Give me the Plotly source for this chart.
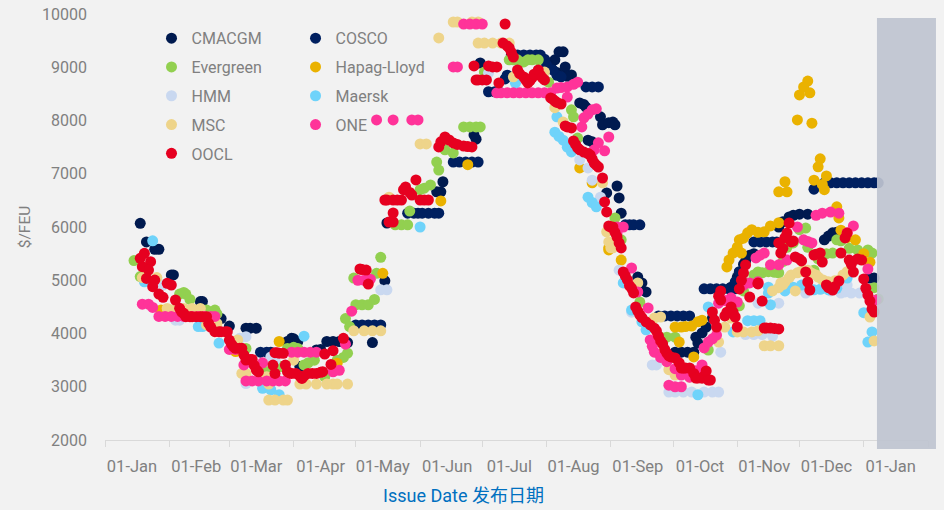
import pandas as pd
import plotly.graph_objects as go

# (day of year counted from 01-Jan, $/FEU)
CMACGM = [(17,6070),(20,5720),(24,5580),(26,5580),(32,5100),(33,5100),(46,4600),(47,4600),(56,4280),(60,4140),(68,4100),(70,4100),(73,4100),
(88,3850),(90,3910),(91,3900),(93,3850),(94,3380),(102,3690),(104,3700),(107,3850),(110,3850),(113,3850),(117,3830),(129,3830),(135,4990),
(136,6075),(160,6660),(163,6850),(162,6660),(178,7730),(179,7650),(181,9080),(217,9140),(219,9290),(221,9290),(222,9005),(225,8855),(213,9100),(215,9000),(218,8900),(220,8830),(223,8830),
(229,8330),(231,8300),(232,8250),(233,7630),(235,7600),(239,8070),(240,7920),(243,7960),(245,7970),(246,7920),(247,6770),(248,6545),(242,6640),(249,6260),
(257,5060),(259,4950),(261,4780),(275,3650),(278,3650),(281,3650),(284,3650),(285,3930),(286,3820),(288,4010),(290,4120),(293,4290),(302,4870),(305,5060),(306,5150),(308,5300),
(309,5360),(311,5470),(313,5500),(325,6000),(327,6100),(330,6190),(332,6220),(335,6240),(339,6240),(347,5760),(349,5830),(351,5890),(353,5900),(371,5040),(369,5040)]
COSCO = [(75,3650),(78,3650),(80,3650),(121,4160),(124,4160),(127,4160),(130,4160),(133,4160),(146,6260),(149,6260),(151,6260),(153,6260),(156,6260),(159,6260),(161,6260),
(168,7220),(171,7220),(174,7220),(177,7220),(180,7220),(185,8540),(188,8540),(190,8540),(193,8780),(194,8850),(196,9230),
(199,9230),(202,9230),(205,9230),(208,9230),(210,9230),(212,9150),(213,9040),(216,8950),(218,8850),(220,8820),
(232,8630),(235,8630),(238,8630),(251,6040),(253,6040),(255,6040),(258,6040),
(267,4330),(270,4330),(273,4330),(276,4330),(279,4330),(282,4330),
(289,4840),(292,4840),(295,4840),(298,4840),(301,4840),(304,4840),(304,4970),(306,5160),
(313,5720),(316,5720),(319,5720),(322,5720),(324,5720),
(342,6710),(344,6790),(347,6830),(350,6830),(353,6830),(356,6830),(359,6830),(362,6830),(365,6830),(368,6830),(371,6830),(373,6830)]
EVERGREEN = [(14,5370),(17,5070),(36,4740),(38,4770),(39,4740),(41,4640),(49,4440),(53,4440),(54,4370),(68,3720),(88,3720),(91,3740),(93,3720),(78,3280),(82,3380),(85,3380),
(96,3410),(98,3450),(101,3500),(106,3190),(112,3500),(115,3550),(117,3630),(116,4280),(118,4130),(121,4540),(124,4540),(127,4540),(130,4640),(120,5040),(131,5130),(133,5430),
(140,6040),(143,6040),(146,6040),(147,6300),(152,6700),(154,6730),(157,6790),(160,7220),(161,7070),(164,7450),(168,7390),
(173,7880),(176,7880),(179,7880),(181,7880),(183,8910),(195,9140),(199,9140),(202,9100),(206,9140),(209,9140),(197,9140),(204,9140),
(214,8720),(225,8200),(226,8070),(228,7670),(246,6170),(249,5760),(258,4590),(268,3930),(271,3930),(275,3930),(291,3690),
(306,4520),(308,4800),(310,4950),(313,5100),(315,5155),(317,5140),(321,5190),(325,5140),(327,5350),(329,5620),(338,5980),(339,5620),(342,5190),(344,5400),(348,5500),(351,5510),(353,5760),(355,5740),
(359,5600),(363,5570),(368,5570),(370,5510),(371,4860),(373,4650),(320,5160),(323,5150),(332,5700),(335,5950),(346,5480)]
HAPAG = [(27,4440),(63,3660),(84,3850),(112,3440),(134,5130),(162,6490),(175,7170),(229,7110),(235,6830),(243,5610),(243,5570),(249,5380),
(275,4120),(278,4120),(280,4130),(283,4140),(286,4220),(288,4250),(277,3840),(284,3560),(300,5250),(303,5510),(307,5510),(306,5760),(310,5890),(318,5910),(321,6020),(325,6080),(301,5380),(305,5620),(308,5790),(312,5950),(315,5900),
(325,6660),(329,6660),(328,6850),(334,8010),(341,7950),(335,8480),(340,8520),(337,8630),(339,8740),(344,7130),(345,7280),(342,6880),(348,6960),(347,6700),(346,6800),
(353,6380),(354,6170),(355,5940),(362,5760),(369,5340),(358,5800),(366,5500)]
HMM = [(28,4910),(34,4250),(36,4250),(65,3910),(68,3940),(80,3560),(82,3500),(68,3060),(133,4820),(136,4820),(185,8890),(229,7260),(233,7110),(235,6880),(239,6560),(248,5190),
(254,4400),(264,3410),(266,3410),(272,2900),(275,2900),(279,2900),(283,2900),(289,2900),(293,2900),(296,2900),(297,3650),(315,4570),(325,4570),(322,3950),(309,3980),(313,3980),(317,3980),
(355,4760),(357,4780),(360,4760),(364,4760),(358,4910),(338,4760),(350,4800)]
MAERSK = [(23,5740),(19,4970),(45,4130),(47,4130),(55,3820),(96,3950),(76,2970),(80,2940),(84,2850),(152,6000),(198,8700),(218,8070),(217,7780),(221,7630),(225,7410),(219,7700),(223,7500),
(233,6560),(235,6460),(237,6380),(250,4950),(254,4440),(259,4220),(261,4070),(286,2850),(291,4500),(310,4240),(313,4240),(316,4240),(303,4030),(320,4760),(321,4540),(320,4870),(328,4800),(330,4870),(332,4870),(336,4910),(342,4820),(345,4830),(349,4820),(353,4850),(358,5040),
(366,4390),(370,4030),(368,3840)]
MSC = [(18,5050),(25,5050),(30,4470),(34,4470),(38,4470),(42,4470),(46,4470),(49,4160),(54,4190),(64,3880),(66,3250),(68,3250),(79,3050),(79,2750),(82,2750),(86,2750),(88,2750),(78,3190),
(94,3050),(97,3050),(102,3050),(107,3050),(110,3050),(112,3050),(117,3050),(91,3500),(120,4050),(125,4050),(129,4050),(133,4050),(137,6560),(152,7560),(155,7560),(161,9550),
(168,9850),(170,9850),(177,9850),(180,9850),(180,9455),(183,9455),(187,9455),(191,9455),(195,9455),(197,8820),(212,8910),(217,8240),(221,7970),(240,6830),(242,5910),(244,5610),(243,5720),(245,5610),
(257,4950),(268,4310),(265,4290),(272,3320),(275,3220),(282,3180),(296,3840),(299,4120),(302,4290),(305,4030),(308,4030),(312,4030),(315,4050),(318,3770),(321,3770),(325,3770),
(325,4860),(328,4970),(331,5100),(334,5140),(333,4800),(339,5190),(344,5060),(349,4970),(358,5160),(369,4310),(371,3860),(327,4920),(336,5170),(341,5130),(346,5010),(352,4990),
(322,4800),(326,4950),(330,5050),(338,5180),(343,5100),(347,4990),(350,4960),(354,5000),(356,5100)]
ONE = [(18,4550),(21,4550),(23,4490),(26,4320),(29,4320),(32,4320),(35,4320),(38,4320),(42,4320),(45,4320),(48,4320),(51,4320),(53,4320),(60,3700),(63,3700),(67,3410),(76,3450),
(68,3110),(71,3110),(74,3110),(78,3110),(81,3110),(84,3110),(87,3110),(90,3650),(93,3650),(96,3650),(99,3650),(102,3650),(113,3310),(110,3280),(116,3800),(119,4420),(122,5000),(125,5000),(128,5020),
(131,8010),(139,8010),(148,8010),(151,8010),(168,9005),(170,9005),(173,9810),(176,9810),(179,9810),(182,9810),
(189,8520),(191,8520),(194,8520),(197,8520),(200,8520),(203,8520),(206,8520),(209,8520),(212,8520),(215,8520),(218,8610),(220,8620),(223,8630),(226,8680),(228,8720),(223,8440),(230,7880),(231,8050),(233,8120),(235,8200),(237,8220),
(236,7450),(241,7430),(238,7580),(243,7690),(247,6000),(250,6000),(247,5890),(254,5230),(257,4780),(262,4480),(263,3880),(264,3760),(265,3650),(268,3550),(271,3470),(275,3340),(278,3220),(288,3410),(282,3180),(285,3300),
(272,3030),(275,3000),(278,3000),(289,3730),(291,3840),(293,3900),(295,3970),(296,4570),(299,4620),(302,4670),(305,4590),(308,4910),(311,4950),(315,4970),(302,4630),
(314,5420),(316,5470),(318,5510),(321,5290),(325,5290),(329,5380),(334,6000),(337,5760),(339,5730),(341,5700),(343,6220),(346,6260),(350,6280),(354,6260),(361,6020),(358,5890),(368,5210),(372,4630)]
OOCL = [(19,5505),(17,5411),(22,5349),(18,5254),(21,5192),(20,5035),(24,5004),(23,4879),(26,4741),(28,4679),(30,4942),(32,4910),(34,4629),(36,4472),(37,4400),(38,4380),(39,4316),(41,4316),(42,4316),(44,4316),(46,4316),(47,4316),(49,4316),(50,4190),(51,4120),(53,4034),(55,4034),(56,4034),(58,4034),(59,4034),(60,3877),(61,3800),(62,3750),(63,3721),(65,3721),(66,3721),(67,3600),(68,3502),(70,3510),(71,3514),(72,3400),(73,3314),(74,3280),
(82,3640),(83,3640),(84,3630),(86,3627),(81,3408),(82,3251),(87,3408),(88,3283),(89,3260),(90,3250),(92,3251),(94,3200),(95,3157),(96,3200),(98,3251),(100,3251),(102,3251),(104,3270),(105,3283),(106,3615),(110,3677),(109,3420),(115,3909),
(123,5211),(124,5200),(126,5192),(127,4929),
(135,6507),(136,6507),(139,6507),(141,6507),(143,6507),(144,6700),(145,6751),(150,6883),(147,6650),(148,6601),(152,6507),(154,6507),(156,6507),(139,6263),(139,6094),(137,6094),
(161,7503),(162,7600),(164,7690),(166,7634),(168,7578),(170,7550),(173,7521),(175,7510),(177,7503),
(178,9024),(179,8761),(180,8761),(182,8761),(184,8761),(185,9024),(187,9005),(189,9005),(193,9812),(192,9455),(194,9400),(195,9362),(196,9280),(197,9192),(190,8705),
(199,8949),(200,8880),(202,8817),(203,8760),(204,8705),(205,8750),(206,8799),(207,8870),(209,8949),(210,8850),(211,8800),(212,8761),
(215,8423),(216,8400),(217,8366),(218,8340),(220,8310),(222,7897),(223,7880),(225,7860),(226,7615),(227,7550),(228,7484),(229,7450),(231,7408),(233,7380),(234,7352),(235,7280),(236,7202),(237,7160),(238,7127),(240,6920),
(241,6470),(242,6282),(243,6019),(244,6000),(245,6000),(246,5900),(247,5812),(248,5700),(249,5606),
(250,5155),(251,5080),(252,5005),(253,4900),(254,4850),(255,4761),(256,4498),(257,4420),(258,4348),(259,4300),(261,4220),(263,4160),(265,4100),(266,4047),(267,3950),(268,3860),(269,3803),(270,3700),(271,3630),(272,3578),(273,3560),(275,3540),(277,3450),(278,3352),(279,3352),(280,3352),(282,3352),(284,3250),(285,3164),(286,3164),(288,3160),(289,3200),(290,3296),(291,3127),(292,3127),
(295,4122),(294,4250),(293,4404),(297,4629),(296,4700),(297,4798),(299,4329),(300,4400),(302,4498),(303,4400),(304,4310),(305,4122),
(306,4836),(311,4685),(317,4610),(315,4930),(318,4103),(319,4103),(321,4103),(323,4095),(325,4085),
(308,5136),(309,5287),(315,4948),(307,5000),
(326,5512),(327,5600),(330,6075),(329,5887),(328,5800),(325,5700),(332,5737),(331,5720),(333,5437),(335,5400),(336,5362),(342,5474),(343,5490),(345,5512),(346,5343),
(338,5155),(339,4967),(340,4817),(348,4911),(349,4860),(351,4817),(352,4880),(354,4986),
(355,5512),(357,5794),(358,5887),(359,5380),(360,5300),(363,5400),(365,5380),(361,5155),(366,5024),(367,4850),(368,4723),(369,4610),(370,4460),(371,4404)]

SERIES_NAMES = ["CMACGM", "COSCO", "Evergreen", "Hapag-Lloyd", "HMM", "Maersk", "MSC", "ONE", "OOCL"]
SERIES_DATA = [CMACGM, COSCO, EVERGREEN, HAPAG, HMM, MAERSK, MSC, ONE, OOCL]
COLORS = ["#001A4F", "#002060", "#92D050", "#EAB200", "#C9D8F0", "#6FD3FA", "#EED48A", "#FF3399", "#E60020"]
LEGENDS = ["legend", "legend2", "legend", "legend2", "legend", "legend2", "legend", "legend2", "legend"]
TICK_DATES = ["2024-01-01","2024-02-01","2024-03-01","2024-04-01","2024-05-01","2024-06-01","2024-07-01","2024-08-01",
              "2024-09-01","2024-10-01","2024-11-01","2024-12-01","2025-01-01","2025-02-01"]
TICK_LABELS = ["01-Jan","01-Feb","01-Mar","01-Apr","01-May","01-Jun","01-Jul","01-Aug","01-Sep","01-Oct","01-Nov","01-Dec","01-Jan",""]
Y_TICKS = [2000, 3000, 4000, 5000, 6000, 7000, 8000, 9000, 10000]
X_TITLE = "Issue Date 发布日期"
Y_TITLE = "$/FEU"

FONT = "Roboto, 'Noto Sans CJK SC', sans-serif"
GREY = "#808080"
base = pd.Timestamp("2024-01-01")

fig = go.Figure()
for name, data, color, leg in zip(SERIES_NAMES, SERIES_DATA, COLORS, LEGENDS):
    days, vals = zip(*data)
    fig.add_trace(go.Scatter(
        x=[base + pd.Timedelta(days=d) for d in days], y=list(vals), mode="markers", name=name,
        marker=dict(color=color, size=11, line=dict(width=0)),
        legend=leg, legendgroup=name,
    ))

legend_style = dict(font=dict(family=FONT, size=16, color=GREY), bgcolor="rgba(0,0,0,0)", borderwidth=0,
                    orientation="v", tracegroupgap=5, itemclick=False, itemdoubleclick=False,
                    xanchor="left", yanchor="top", yref="paper", xref="paper", itemwidth=30)
fig.update_layout(
    width=944, height=510, margin=dict(l=105, r=16, t=14, b=70),
    paper_bgcolor="#F2F2F2", plot_bgcolor="#F2F2F2",
    font=dict(family=FONT, size=16, color=GREY),
    showlegend=True,
    legend=dict(x=0.0565, y=0.983, **legend_style),
    legend2=dict(x=0.2315, y=0.983, **legend_style),
    xaxis=dict(type="date", range=["2024-01-01", "2025-02-01"], tickmode="array", tickvals=TICK_DATES, ticktext=TICK_LABELS,
               ticks="outside", ticklen=6, tickcolor="#D9D9D9", showline=True, linecolor="#D9D9D9", linewidth=1, showgrid=False,
               automargin=False,
               zeroline=False, tickfont=dict(family=FONT, size=16.5, color=GREY), ticklabelshift=27, ticklabelstandoff=5),
    yaxis=dict(range=[2000, 10000], tickmode="array", tickvals=Y_TICKS, ticktext=[str(v) for v in Y_TICKS], showgrid=False, showline=False,
               automargin=False,
               zeroline=False, ticks="", tickfont=dict(family=FONT, size=16, color=GREY), ticklabelstandoff=17,
               title=dict(text=Y_TITLE, font=dict(family=FONT, size=15.5, color=GREY), standoff=7)),
    annotations=[dict(text=X_TITLE, xref="paper", yref="paper", x=0.436, y=-0.131, xanchor="center", yanchor="middle",
                      showarrow=False, font=dict(family=FONT, size=18, color="#0070C0"))],
    shapes=[dict(type="rect", xref="paper", yref="paper", x0=0.938, x1=1.0097, y0=-0.021, y1=0.9906,
                 fillcolor="#BFC4D0", opacity=0.92, line=dict(width=0), layer="above")],
)
fig.write_html("out.html", config={"displayModeBar": False}, post_script="document.body.style.margin='0';")
